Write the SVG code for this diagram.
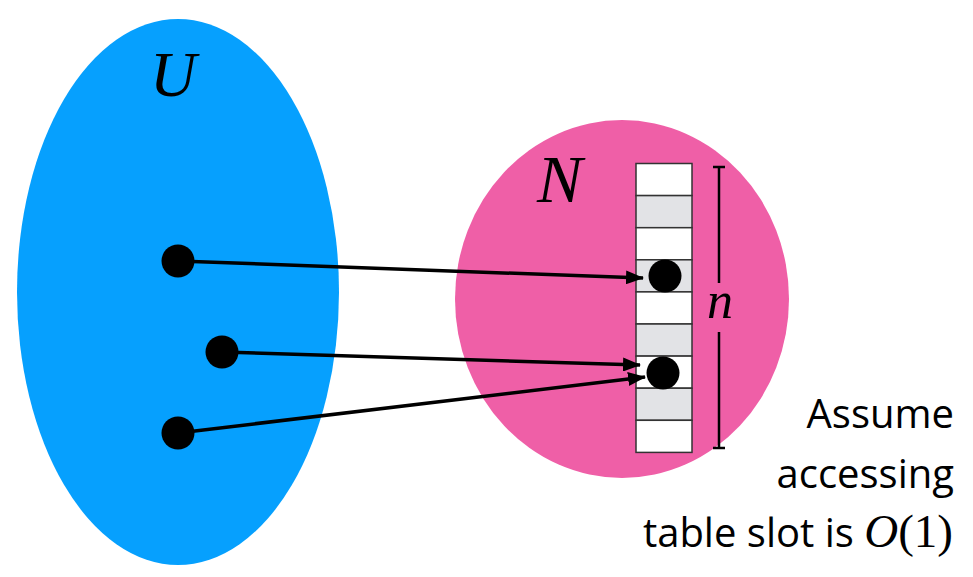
<svg xmlns="http://www.w3.org/2000/svg" width="973" height="577" viewBox="0 0 973 577">
<style>
.math{font-family:"Liberation Serif","Times New Roman",serif;font-style:italic;fill:#000}
.lbl{font-family:"Open Sans","Liberation Sans",sans-serif;font-size:40px;fill:#000}
.slot{stroke:#333;stroke-width:1.5}
.w{fill:#fff}
.g{fill:#e2e3e6}
.dot{fill:#000}
.arrow{stroke:#000;stroke-width:3.5;fill:none;marker-end:url(#ah)}
</style>
<defs>
<marker id="ah" viewBox="0 0 18 14" refX="17" refY="7" markerWidth="18" markerHeight="14" markerUnits="userSpaceOnUse" orient="auto">
<path d="M0,0 L18,7 L0,14 Z" fill="#000"/>
</marker>
</defs>
<rect width="973" height="577" fill="#fff"/>
<g id="U">
<ellipse cx="178" cy="292" rx="161" ry="273" fill="#06a0fe"/>
<text class="math" x="150" y="96" font-size="64">U</text>
</g>
<g id="N">
<ellipse cx="622" cy="299" rx="167" ry="179" fill="#ef5fa7"/>
<text class="math" x="537" y="202" font-size="68">N</text>
</g>
<g id="table">
<rect class="slot w" x="636" y="163.5" width="56" height="32.1"/>
<rect class="slot g" x="636" y="195.6" width="56" height="32.1"/>
<rect class="slot w" x="636" y="227.7" width="56" height="32.1"/>
<rect class="slot g" x="636" y="259.8" width="56" height="32.1"/>
<rect class="slot w" x="636" y="291.9" width="56" height="32.1"/>
<rect class="slot g" x="636" y="324" width="56" height="32.1"/>
<rect class="slot w" x="636" y="356.1" width="56" height="32.1"/>
<rect class="slot g" x="636" y="388.2" width="56" height="32.1"/>
<rect class="slot w" x="636" y="420.3" width="56" height="32.1"/>
<circle class="dot" cx="665" cy="276" r="16.5"/>
<circle class="dot" cx="663" cy="373" r="16.5"/>
</g>
<g id="size">
<path d="M719,167 V283 M719,332 V448 M713,167 H725 M713,448 H725" stroke="#000" stroke-width="2.5" fill="none"/>
<text class="math" x="720" y="318" font-size="52" text-anchor="middle">n</text>
</g>
<g id="keys">
<circle class="dot" cx="178" cy="261" r="16.5"/>
<circle class="dot" cx="222" cy="352" r="16.5"/>
<circle class="dot" cx="178" cy="433" r="16.5"/>
</g>
<g id="connectors">
<line class="arrow" x1="178" y1="261" x2="643" y2="278"/>
<line class="arrow" x1="222" y1="352" x2="640" y2="365"/>
<line class="arrow" x1="178" y1="433" x2="645" y2="377"/>
</g>
<g id="note">
<text class="lbl" x="954" y="428" text-anchor="end">Assume</text>
<text class="lbl" x="954" y="488" text-anchor="end">accessing</text>
<text class="lbl" x="953" y="547" text-anchor="end" font-size="41">table slot is <tspan class="math" font-size="47">O</tspan><tspan font-family="Liberation Serif,serif" font-size="47">(1)</tspan></text>
</g>
</svg>
